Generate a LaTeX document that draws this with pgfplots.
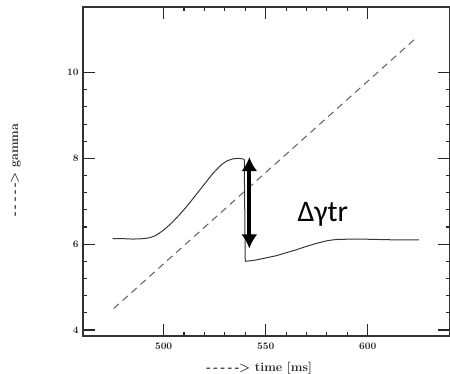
\documentclass[border=0pt]{standalone}
\usepackage{fontspec}
\usepackage{pgfplots}
\pgfplotsset{compat=1.18}
\usetikzlibrary{arrows.meta}
\newfontfamily\calibri{Carlito}
\definecolor{solidc}{RGB}{55,55,55}
\definecolor{dashc}{RGB}{95,95,95}
\newcommand{\tickfont}{\bfseries\fontsize{10}{12}\selectfont}
\newcommand{\lblfont}{\bfseries\fontsize{12.5}{14}\selectfont}
\newcommand{\arr}{{-}\kern2.5pt{-}\kern2.5pt{-}\kern2.5pt{-}\kern2.5pt{-}\kern-0.5pt>}
\begin{document}
\begin{tikzpicture}
\begin{axis}[
  scale only axis,
  width=367bp, height=329bp,
  xmin=460.5, xmax=640.3,
  ymin=3.86, ymax=11.53,
  xtick={500,550,600},
  ytick={4,6,8,10},
  minor x tick num=4,
  minor y tick num=4,
  tick align=inside,
  major tick length=12bp,
  minor tick length=4bp,
  axis line style={line width=1.2bp, black!80},
  every tick/.style={black!85, line width=1.1bp},
  /pgf/number format/assume math mode=true,
  tick label style={font=\tickfont, black!85},
  xticklabel style={yshift=-3bp},
  yticklabel style={xshift=-1bp},
  xlabel={\arr\ time [ms]},
  ylabel={\arr\ gamma},
  xlabel style={font=\lblfont, black!85, at={(rel axis cs:0.48,-0.097)}, anchor=center},
  ylabel style={font=\lblfont, black!85, at={(rel axis cs:-0.183,0.505)}, anchor=center},
  clip=false,
]
\addplot[dashc, line width=1bp, dash pattern=on 7bp off 5bp] coordinates {(475.5,4.5) (623.5,10.8)};
\addplot[solidc, line width=1bp, smooth, tension=0.3] coordinates {
(475,6.13) (480,6.13) (485,6.12) (490,6.13) (493,6.15) (496,6.2) (500,6.33) (504,6.5) (508,6.7) (512,6.92) (516,7.16) (520,7.4) (524,7.64) (528,7.84) (531,7.94) (534,7.99) (537,8.0) (539.5,7.98)};
\addplot[solidc, line width=1bp] coordinates {(539.5,7.98) (540,5.6)};
\addplot[solidc, line width=1bp, smooth, tension=0.3] coordinates {
(540,5.6) (545,5.63) (550,5.68) (555,5.73) (560,5.8) (565,5.87) (570,5.95) (575,6.02) (580,6.08) (585,6.11) (595,6.12) (605,6.11) (615,6.1) (625,6.1)};
\draw[black, line width=4bp, {Latex[length=14bp,width=16bp]}-{Latex[length=14bp,width=16bp]}] (axis cs:542,8.03) -- (axis cs:542,5.9);
\node[font=\calibri\fontsize{30}{36}\selectfont, anchor=base, inner sep=0pt] at (axis cs:578,6.52) {Δγtr};
\coordinate (SW) at (rel axis cs:0,0);
\coordinate (NE) at (rel axis cs:1,1);
\end{axis}
\pgfresetboundingbox
\path ([xshift=-83bp,yshift=-38bp]SW) rectangle ([yshift=7bp]NE);
\end{tikzpicture}
\end{document}
